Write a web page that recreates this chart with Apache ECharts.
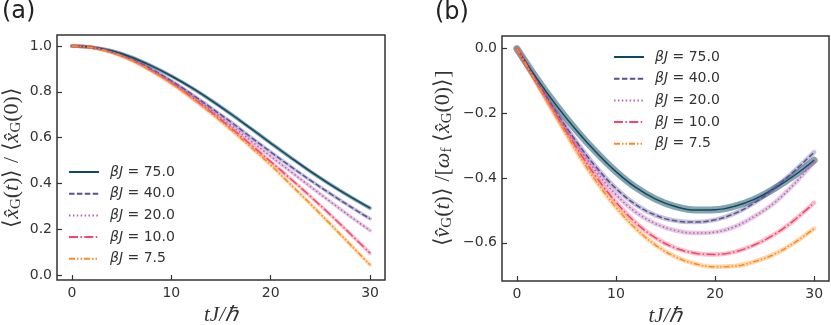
<!DOCTYPE html>
<html>
<head>
<meta charset="utf-8">
<script src="https://cdn.jsdelivr.net/npm/echarts@6/dist/echarts.min.js"></script>
<style>
  html, body { margin: 0; padding: 0; background: #fff; }
  #chart { width: 831px; height: 325px; }
</style>
</head>
<body>
<div id="chart"></div>
<script>
// time grid, tJ/hbar
const tValues = [0, 2, 4, 6, 8, 10, 12, 14, 16, 18, 20, 22, 24, 26, 28, 30]

// (a) <x_G(t)> / <x_G(0)>
const ratio75 = [1, 0.995, 0.979, 0.951, 0.913, 0.869, 0.819, 0.763, 0.703, 0.64, 0.576, 0.513, 0.452, 0.395, 0.342, 0.292]
const ratio40 = [1, 0.994, 0.975, 0.943, 0.899, 0.848, 0.791, 0.73, 0.668, 0.602, 0.537, 0.474, 0.413, 0.355, 0.299, 0.245]
const ratio20 = [1, 0.994, 0.974, 0.941, 0.896, 0.844, 0.785, 0.721, 0.654, 0.586, 0.518, 0.452, 0.386, 0.32, 0.256, 0.194]
const ratio10 = [1, 0.994, 0.973, 0.939, 0.893, 0.84, 0.778, 0.712, 0.642, 0.569, 0.495, 0.42, 0.343, 0.263, 0.18, 0.095]
const ratio7p5 = [1, 0.993, 0.972, 0.937, 0.891, 0.836, 0.774, 0.706, 0.634, 0.558, 0.48, 0.395, 0.31, 0.222, 0.133, 0.044]

// (b) <v_G(t)> / [w_f <x_G(0)>]
const vel75 = [0, -0.092, -0.176, -0.252, -0.32, -0.38, -0.429, -0.465, -0.488, -0.499, -0.498, -0.487, -0.465, -0.432, -0.392, -0.345]
const vel40 = [0, -0.1, -0.197, -0.287, -0.366, -0.432, -0.482, -0.515, -0.532, -0.536, -0.529, -0.509, -0.476, -0.431, -0.378, -0.32]
const vel20 = [0, -0.102, -0.201, -0.295, -0.38, -0.451, -0.505, -0.541, -0.562, -0.57, -0.567, -0.55, -0.518, -0.476, -0.418, -0.35]
const vel10 = [0, -0.104, -0.207, -0.305, -0.396, -0.474, -0.538, -0.585, -0.616, -0.632, -0.636, -0.628, -0.606, -0.574, -0.53, -0.476]
const vel7p5 = [0, -0.106, -0.213, -0.316, -0.41, -0.49, -0.556, -0.607, -0.643, -0.665, -0.674, -0.672, -0.658, -0.635, -0.6, -0.556]

const betaLabels = ["75.0", "40.0", "20.0", "10.0", "7.5"]
const xTicks = [0, 10, 20, 30]
const yTicksA = [0, 0.2, 0.4, 0.6, 0.8, 1.0]
const yTicksB = [-0.6, -0.4, -0.2, 0]

const colors = ["#0e4a5f", "#5a5096", "#b862b2", "#f2466e", "#ff8c1a"]
const dashes = ["solid", [5.5, 2.4], [1.5, 2.4], [9, 2.4, 1.5, 2.4], [6, 2, 1.5, 2, 1.5, 2]]
const ink = "#333"
const sans = "DejaVu Sans"
const serif = "Liberation Serif"

const chart = echarts.init(document.getElementById("chart"), null, { renderer: "canvas" })

function pairs(arr) {
  return tValues.map((t, i) => [t, arr[i]])
}

function fmt(v) {
  return v.toFixed(1).replace("-", "\u2212")
}

function xAxis(gridIndex) {
  return {
    type: "value",
    gridIndex,
    min: -1.5,
    max: 31.5,
    name: "tJ/\u210f",
    nameLocation: "middle",
    nameGap: 22,
    nameTextStyle: { fontFamily: serif, fontStyle: "italic", fontSize: 21, color: ink },
    axisLine: { show: false, onZero: false },
    splitLine: { show: false },
    axisTick: { inside: true, length: 5, customValues: xTicks, lineStyle: { color: ink, width: 1.2 } },
    axisLabel: { customValues: xTicks, margin: 6, fontFamily: sans, fontSize: 14, color: ink }
  }
}

function yAxis(gridIndex, min, max, ticks, name, gap) {
  return {
    type: "value",
    gridIndex,
    min,
    max,
    name,
    nameLocation: "middle",
    nameGap: gap,
    nameTextStyle: {
      color: ink,
      rich: {
        r: { fontFamily: serif, fontSize: 22, color: ink },
        i: { fontFamily: serif, fontStyle: "italic", fontSize: 22, color: ink },
        s: { fontFamily: serif, fontSize: 15, color: ink, verticalAlign: "bottom", padding: [9, 0, 0, 0] }
      }
    },
    axisLine: { show: false, onZero: false },
    splitLine: { show: false },
    axisTick: { inside: true, length: 5, customValues: ticks, lineStyle: { color: ink, width: 1.2 } },
    axisLabel: { customValues: ticks, margin: 5, fontFamily: sans, fontSize: 14, color: ink, formatter: fmt }
  }
}

function buildSeries(gridIndex, sets, bandWidths, bandOpacity) {
  const out = []
  sets.forEach((arr, k) => {
    // shaded uncertainty band
    out.push({
      type: "line",
      name: "band" + gridIndex + k,
      xAxisIndex: gridIndex,
      yAxisIndex: gridIndex,
      data: pairs(arr),
      smooth: 0.4,
      symbol: "none",
      silent: true,
      z: 2,
      lineStyle: { color: colors[k], width: bandWidths[k], opacity: bandOpacity[k], cap: "round" }
    })
    out.push({
      type: "line",
      name: betaLabels[k],
      xAxisIndex: gridIndex,
      yAxisIndex: gridIndex,
      data: pairs(arr),
      smooth: 0.4,
      symbol: "none",
      z: 3,
      itemStyle: { color: colors[k] },
      lineStyle: { color: colors[k], width: 1.5, type: dashes[k] }
    })
  })
  return out
}

function legend(left, top) {
  return {
    data: betaLabels,
    orient: "vertical",
    left,
    top,
    itemWidth: 30,
    itemHeight: 14,
    itemGap: 7.7,
    selectedMode: false,
    itemStyle: { opacity: 0 },
    formatter: name => "{i|\u03b2J} = " + name,
    textStyle: {
      fontFamily: sans,
      fontSize: 14,
      color: ink,
      padding: [0, 0, 0, 6],
      rich: { i: { fontFamily: sans, fontStyle: "italic", fontSize: 14, color: ink } }
    }
  }
}

const option = {
  animation: false,
  backgroundColor: "#fff",
  title: [
    { text: "(a)", left: -3, top: -5, textStyle: { fontFamily: sans, fontWeight: "normal", fontSize: 24, color: "#222" } },
    { text: "(b)", left: 430, top: -4, textStyle: { fontFamily: sans, fontWeight: "normal", fontSize: 24, color: "#222" } }
  ],
  grid: [
    { left: 57, top: 35, width: 328, height: 245, outerBoundsMode: "none", containLabel: false, show: true, borderColor: ink, borderWidth: 1.5, backgroundColor: "transparent" },
    { left: 502, top: 36, width: 327, height: 245, outerBoundsMode: "none", containLabel: false, show: true, borderColor: ink, borderWidth: 1.5, backgroundColor: "transparent" }
  ],
  xAxis: [xAxis(0), xAxis(1)],
  yAxis: [
    yAxis(0, -0.022, 1.048, yTicksA,
      "{r|\u27e8}{i|x\u0302}{s|G}{r|(}{i|t}{r|)\u27e9 / \u27e8}{i|x\u0302}{s|G}{r|(0)\u27e9}", 33),
    yAxis(1, -0.718, 0.039, yTicksB,
      "{r|\u27e8}{i|v\u0302}{s|G}{r|(}{i|t}{r|)\u27e9 /[}{i|\u03c9}{s|f}{r| \u27e8}{i|x\u0302}{s|G}{r|(0)\u27e9]}", 47)
  ],
  legend: [legend(63, 160), legend(608, 45)],
  series: [
    ...buildSeries(0, [ratio75, ratio40, ratio20, ratio10, ratio7p5], [3.5, 3.5, 3.5, 3.5, 3.5], [0.5, 0.35, 0.35, 0.35, 0.35]),
    ...buildSeries(1, [vel75, vel40, vel20, vel10, vel7p5], [7, 4.5, 4.5, 4.5, 4.5], [0.5, 0.35, 0.35, 0.35, 0.35])
  ]
}

chart.setOption(option)
</script>
</body>
</html>
